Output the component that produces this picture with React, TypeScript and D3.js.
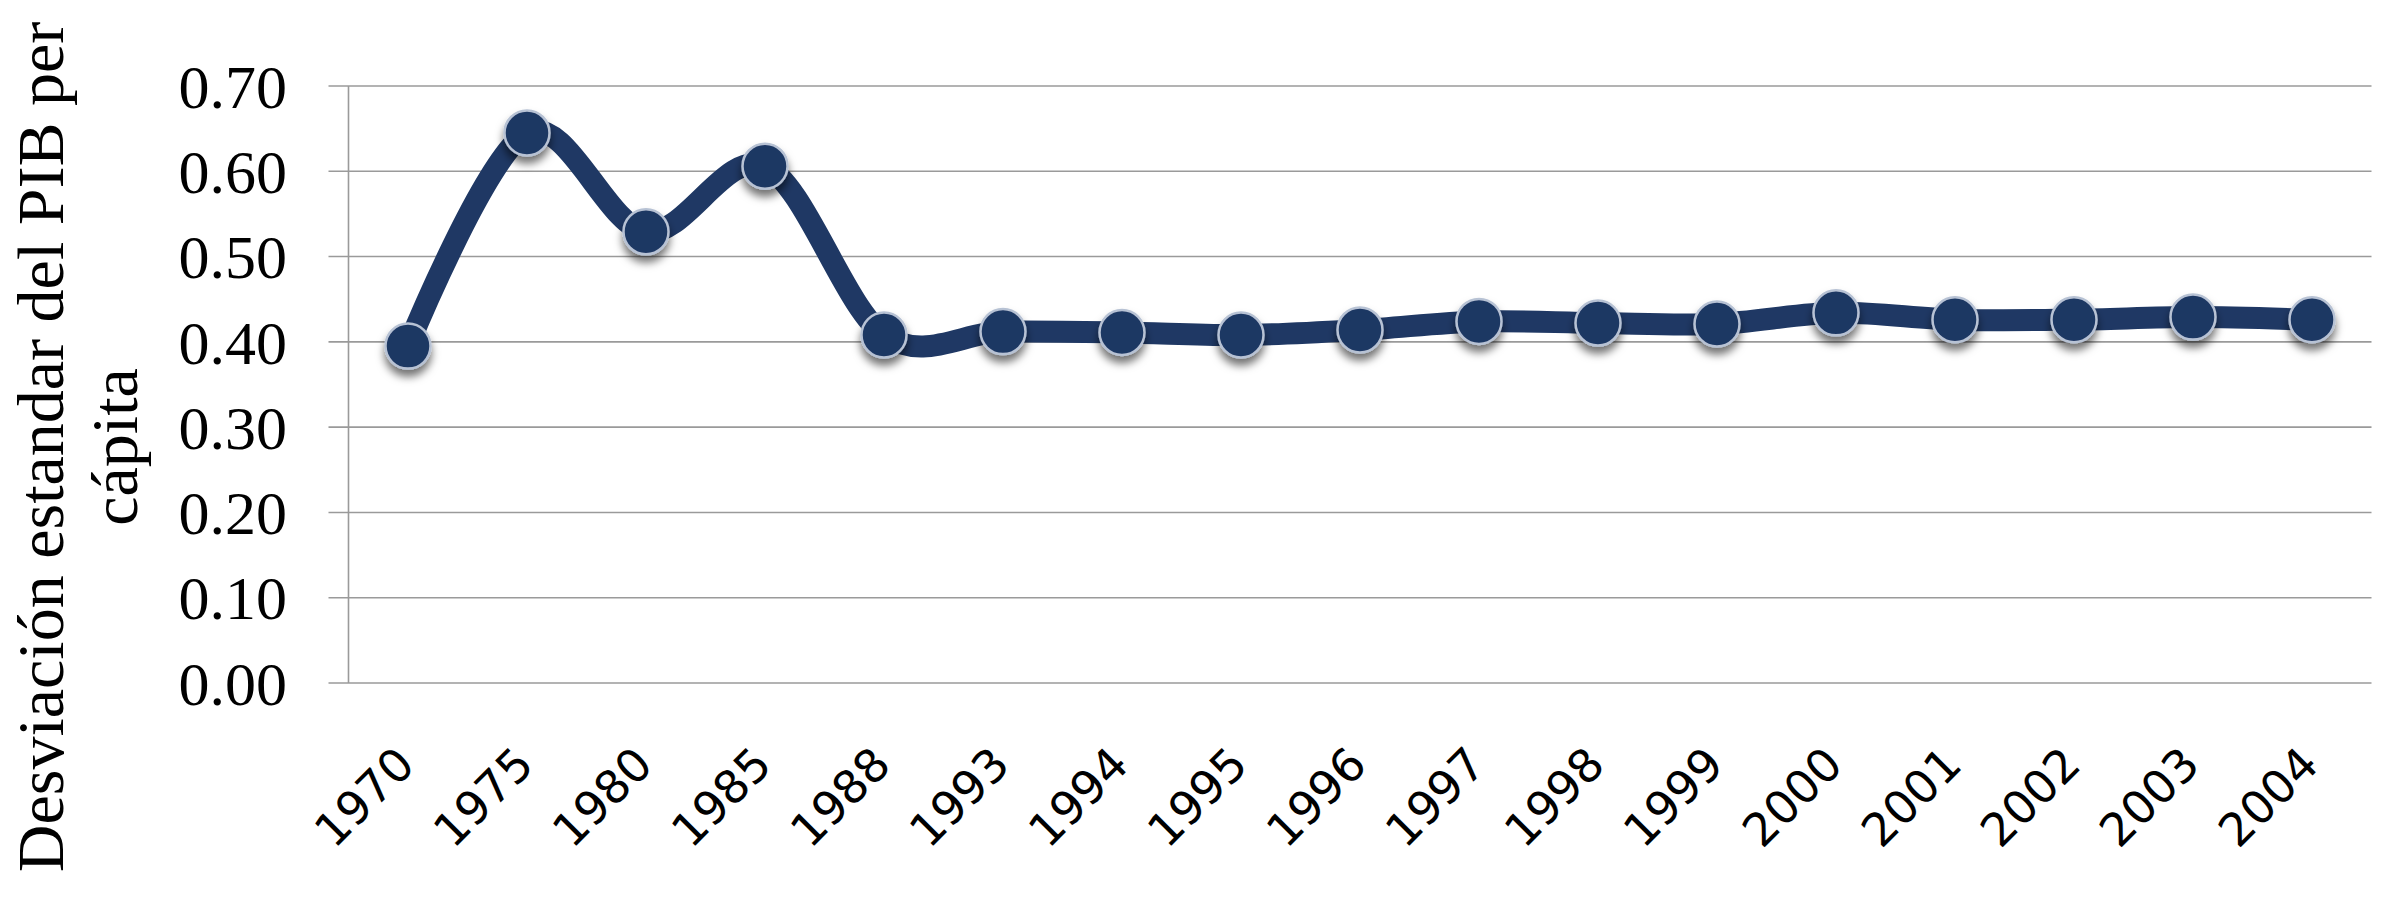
import React from "react";
import * as d3 from "d3";

const years = ["1970","1975","1980","1985","1988","1993","1994","1995","1996","1997","1998","1999","2000","2001","2002","2003","2004"];
const values = [0.395,0.645,0.529,0.606,0.408,0.412,0.411,0.408,0.414,0.424,0.422,0.421,0.434,0.426,0.426,0.429,0.426];
const yTicks = [0,0.1,0.2,0.3,0.4,0.5,0.6,0.7];
const titleLines = ["Desviación estandar del PIB per", "cápita"];

const W = 2404, H = 898;
const left = 348.5, right = 2371.5, top = 86, bottom = 683;
const navy = "#1f3864";

export default function App() {
  const x = d3.scaleBand<string>().domain(years).range([left, right]).padding(0);
  const y = d3.scaleLinear().domain([0, 0.7]).range([bottom, top]);
  const cx = (yr: string) => (x(yr) as number) + x.bandwidth() / 2;
  const line = d3.line<number>()
    .x((_, i) => cx(years[i]))
    .y((v) => y(v))
    .curve(d3.curveCardinal.tension(0));
  const path = line(values) || "";
  const fmt = d3.format(".2f");
  return (
    <svg width={W} height={H} style={{ position: "absolute", left: 0, top: 0, background: "#fff" }}>
      <defs>
        <filter id="sh" x="-50%" y="-50%" width="200%" height="220%">
          <feDropShadow dx="0" dy="7" stdDeviation="4" floodColor="#000" floodOpacity="0.55" />
        </filter>
      </defs>
      {yTicks.map((t) => (
        <g key={t}>
          <line x1={left - 20} x2={t === 0 ? right : right} y1={y(t)} y2={y(t)} stroke="#9a9a9a" strokeWidth={1.6} />
          <text x={287} y={y(t)} dy="0.35em" textAnchor="end" fontFamily="'Liberation Serif', 'Times New Roman', serif" fontSize={62} fill="#000">{fmt(t)}</text>
        </g>
      ))}
      <line x1={left} x2={left} y1={top} y2={bottom} stroke="#9a9a9a" strokeWidth={1.6} />
      {years.map((yr) => (
        <text key={yr} transform={`translate(${cx(yr) + 9},${bottom + 84}) rotate(-45)`} textAnchor="end"
          fontFamily="'DejaVu Sans', sans-serif" fontSize={46} fill="#000">{yr}</text>
      ))}
      <g transform={`translate(63,447) rotate(-90)`}>
        {titleLines.map((l, i) => (
          <text key={i} x={0} y={i * 74} textAnchor="middle" fontFamily="'Liberation Serif', 'Times New Roman', serif" fontSize={66} fill="#000">{l}</text>
        ))}
      </g>
      <path d={path} fill="none" stroke={navy} strokeWidth={22} strokeLinejoin="round" strokeLinecap="round" />
      {values.map((v, i) => (
        <circle key={i} cx={cx(years[i])} cy={y(v)} r={22.5} fill={navy} stroke="#b7c2d4" strokeWidth={2.5} filter="url(#sh)" />
      ))}
    </svg>
  );
}
